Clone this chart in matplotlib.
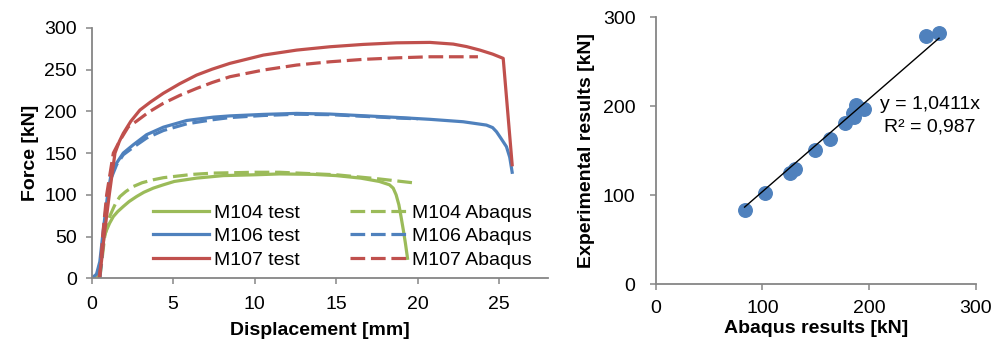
# Bibliotecas utilizadas:
import matplotlib
matplotlib.use("Agg")
import matplotlib.pyplot as plt  # Biblioteca para gerar gráficos e estilizar

# Fonte parecida com Arial
plt.rcParams['font.family'] = ['Liberation Sans', 'DejaVu Sans']

# --- Dados ---

# M104 test
m104_teste_x = [0.0, 0.3, 0.55, 0.76, 0.92, 1.1, 1.33, 1.6, 1.94, 2.3, 2.76, 3.2, 3.78,
                4.4, 5.07, 6.44, 8.08, 10.06, 11.53, 13.6, 15.0, 16.5, 17.65, 18.27,
                18.5, 18.68, 18.85, 18.98, 19.12, 19.25, 19.38]
m104_teste_y = [0, 3, 20, 50, 58, 66, 74, 80, 86, 92, 98, 103, 108,
                112, 116, 120, 123, 124, 125, 124.5, 123, 120, 116, 112,
                108, 100, 88, 74, 58, 42, 24]

# M104 Abaqus
m104_abaqus_x = [0.5, 0.65, 0.8, 1.0, 1.15, 1.33, 1.5, 1.74, 2.1, 2.56, 3.1, 3.78, 4.4,
                 5.07, 6.2, 7.46, 10.06, 11.53, 15.0, 17.65, 19.9]
m104_abaqus_y = [0, 25, 50, 68, 76, 84, 91, 98, 104, 110, 114.5, 118, 120.5,
                 122, 124.5, 126, 127, 127, 124, 119, 114]

# M106 test
m106_teste_x = [0.0, 0.3, 0.5, 0.67, 0.85, 0.98, 1.17, 1.53, 1.94, 2.56, 3.37, 4.4, 5.83,
                7.46, 8.48, 10.53, 12.58, 14.62, 16.66, 18.71, 20.75, 22.79, 24.22,
                24.6, 24.84, 25.1, 25.45, 25.65, 25.8]
m106_teste_y = [0, 5, 20, 50, 80, 100, 122, 138, 150, 160, 172, 181, 189,
                193, 194.5, 196.3, 197.5, 196.7, 194.7, 192.7, 190.4, 187.5, 183.5,
                180.5, 175.5, 168, 157.6, 145, 127]

# M106 Abaqus
m106_abaqus_x = [0.5, 0.65, 0.8, 1.0, 1.2, 1.53, 1.94, 2.56, 3.37, 4.4, 5.83,
                 7.46, 8.48, 10.53, 12.58, 14.62, 16.66, 18.71, 20.0]
m106_abaqus_y = [0, 30, 70, 100, 120, 136, 148, 157, 168, 177, 185,
                 190, 192.5, 195, 196.5, 196, 194, 192, 191]

# M107 test
m107_teste_x = [0.45, 0.6, 0.76, 1.08, 1.43, 1.7, 1.94, 2.4, 2.96, 3.6, 4.39, 5.4, 6.44,
                7.4, 8.48, 10.53, 12.58, 14.62, 16.66, 18.71, 20.75, 22.18, 23.0, 23.82,
                24.6, 25.25, 25.8]
m107_teste_y = [0, 20, 50, 100, 150, 164, 173.6, 188, 201.5, 211, 221.5, 233, 243.4,
                250.5, 257.4, 267.3, 273.3, 277.3, 280.1, 282, 282.5, 280.5, 277.5, 273.3,
                268.5, 263.4, 136]

# M107 Abaqus
m107_abaqus_x = [0.5, 0.67, 0.92, 1.33, 1.7, 2.25, 2.74, 3.5, 4.39, 5.4, 6.44, 7.4, 8.48,
                 10.53, 12.58, 14.62, 16.66, 18.71, 20.75, 23.7]
m107_abaqus_y = [0, 50, 100, 150, 164, 181.5, 188, 199, 209.5, 219, 227.4, 234.5, 241.4,
                 249.4, 255.4, 259.3, 262.2, 264, 265.3, 265.3]

# Gráfico de dispersão: Abaqus x Experimental
abaqus_kn = [83.3, 102.7, 126.2, 130.9, 149.0, 163.2, 177.0, 185.7, 185.0, 188.2,
             195.7, 253.7, 265.6]
experimental_kn = [83.5, 103.0, 124.7, 129.2, 151.0, 163.3, 181.6, 187.6, 193.0, 202.0,
                   197.0, 279.4, 282.4]
coef_angular = 1.0411
texto_equacao = 'y = 1,0411x'
texto_r2 = 'R² = 0,987'

# Cores no padrão do Excel
verde = '#9bbb59'
azul = '#4f81bd'
vermelho = '#c0504d'
cinza = '#868686'

fig = plt.figure(figsize=(9.91, 3.39), dpi=100)

# --- Gráfico 1: Força x Deslocamento ---
ax1 = fig.add_axes([0.0925, 0.179, 0.4605, 0.739])
lw = 2.3
tracos = (4.6, 1.8)
ax1.plot(m104_teste_x, m104_teste_y, color=verde, lw=lw, label='M104 test')
ax1.plot(m104_abaqus_x, m104_abaqus_y, color=verde, lw=lw, dashes=tracos, label='M104 Abaqus')
ax1.plot(m106_teste_x, m106_teste_y, color=azul, lw=lw, label='M106 test')
ax1.plot(m106_abaqus_x, m106_abaqus_y, color=azul, lw=lw, dashes=tracos, label='M106 Abaqus')
ax1.plot(m107_teste_x, m107_teste_y, color=vermelho, lw=lw, label='M107 test')
ax1.plot(m107_abaqus_x, m107_abaqus_y, color=vermelho, lw=lw, dashes=tracos, label='M107 Abaqus')

ax1.set_xlim(0, 28)
ax1.set_ylim(0, 300)
ax1.set_xticks([0, 5, 10, 15, 20, 25])
ax1.set_yticks([0, 50, 100, 150, 200, 250, 300])
ax1.set_xlabel('Displacement [mm]', fontsize=14, fontweight='bold', labelpad=7)
ax1.set_ylabel('Force [kN]', fontsize=14, fontweight='bold', labelpad=4)

# Legenda em 2 colunas (ordem: testes à esquerda, Abaqus à direita)
h, l = ax1.get_legend_handles_labels()
ordem = [0, 2, 4, 1, 3, 5]
ax1.legend([h[i] for i in ordem], [l[i] for i in ordem], ncol=2, frameon=False,
           fontsize=14, loc='lower right', bbox_to_anchor=(0.985, 0.0),
           handlelength=2.9, handletextpad=0.25, columnspacing=2.6,
           labelspacing=0.3, borderaxespad=0.1)

# --- Gráfico 2: Abaqus x Experimental ---
ax2 = fig.add_axes([0.6617, 0.1614, 0.3229, 0.7876])
ax2.scatter(abaqus_kn, experimental_kn, s=95, color=azul, zorder=2)
linha_x = [min(abaqus_kn), max(abaqus_kn)]
linha_y = [coef_angular * v for v in linha_x]
ax2.plot(linha_x, linha_y, color='black', lw=1.0, zorder=3)
ax2.text(257, 202, texto_equacao, fontsize=14, ha='center', va='center')
ax2.text(257, 177, texto_r2, fontsize=14, ha='center', va='center')

ax2.set_xlim(0, 300)
ax2.set_ylim(0, 300)
ax2.set_xticks([0, 100, 200, 300])
ax2.set_yticks([0, 100, 200, 300])
ax2.set_xlabel('Abaqus results [kN]', fontsize=14, fontweight='bold', labelpad=2)
ax2.set_ylabel('Experimental results [kN]', fontsize=14, fontweight='bold', labelpad=6)

# Estilo dos eixos (cinza, só esquerda e baixo)
for ax in (ax1, ax2):
    for lado in ['top', 'right']:
        ax.spines[lado].set_visible(False)
    for lado in ['left', 'bottom']:
        ax.spines[lado].set_color(cinza)
        ax.spines[lado].set_linewidth(1.3)
    ax.tick_params(colors=cinza, labelcolor='black', labelsize=14, length=4.5, width=1.1)

ax1.tick_params(axis='y', pad=6)
ax1.tick_params(axis='x', pad=8)
ax2.tick_params(axis='y', pad=10)
ax2.tick_params(axis='x', pad=7)

fig.savefig('out.png', dpi=100)
plt.close(fig)
